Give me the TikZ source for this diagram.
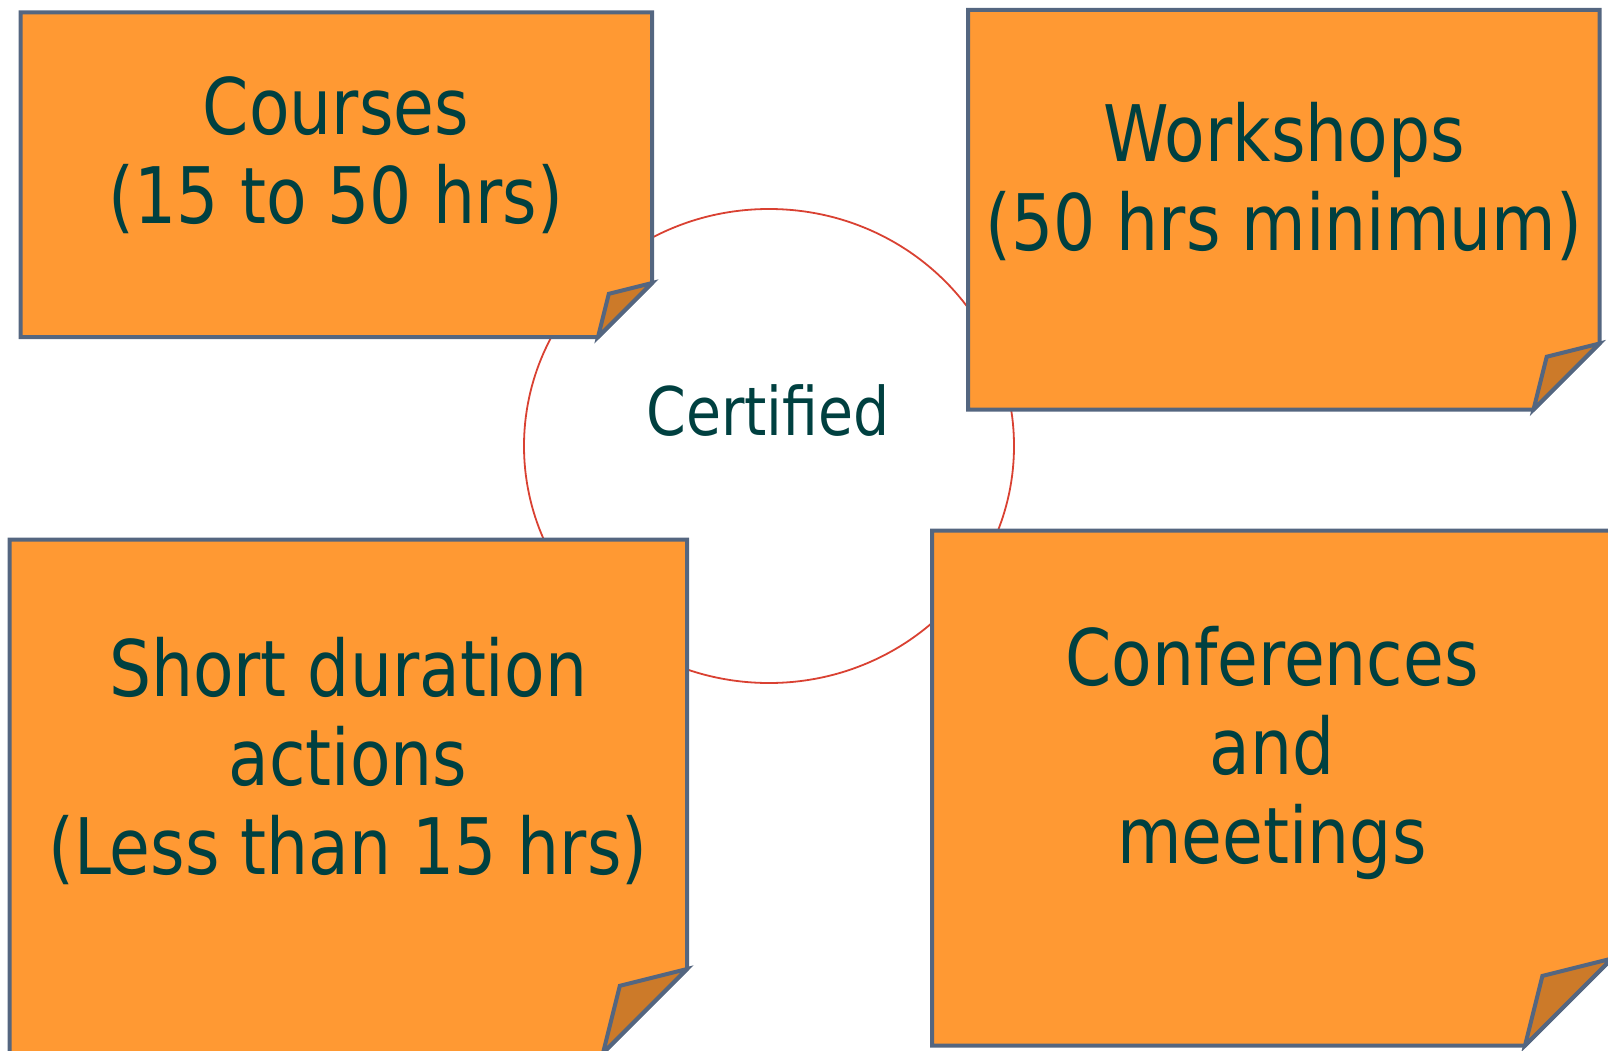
\documentclass[tikz,border=0pt]{standalone}
\usepackage{fontspec}
\newfontfamily\notefont[FakeStretch=0.85]{DejaVu Sans}

\definecolor{noteorange}{RGB}{255,153,51}
\definecolor{notefold}{RGB}{204,122,41}
\definecolor{noteedge}{RGB}{84,102,128}
\definecolor{notetext}{RGB}{0,64,64}
\definecolor{ringred}{RGB}{217,65,50}

% sticky note: left, top, right, bottom, size of the folded corner
\newcommand{\stickynote}[5]{%
    \draw[fill=noteorange] (#1,#2) -- (#3,#2) -- (#3,{#4-#5}) -- ({#3-#5},#4) -- (#1,#4) -- cycle;
    \draw[fill=notefold] (#3,{#4-#5}) -- ({#3-0.8*#5},{#4-0.8*#5}) -- ({#3-#5},#4) -- cycle;
}

\begin{document}
\begin{tikzpicture}[x=1pt, y=-1pt, line width=4pt, line join=miter,
    notelabel/.style={text=notetext, align=center, anchor=base,
        font=\notefont\fontsize{78}{89}\selectfont}]
\useasboundingbox (0,0) rectangle (1608,1051);
\clip (0,0) rectangle (1608,1051);

%\fill[white] (0,0) rectangle (1608,1051);
\draw[line width=1.8pt, color=ringred] (769,446) ellipse [x radius=245, y radius=237];

\begin{scope}[draw=noteedge]
    \stickynote{20.5}{12.5}{652}{337}{54}
    \stickynote{968}{10}{1599.5}{409.5}{66}
    \stickynote{9.5}{539.5}{687}{1053}{84}
    \stickynote{932}{530.5}{1612}{1045.5}{87}
\end{scope}

% anchor=base sits on the last line
\node[notelabel] (courses) at (336,224) {Courses\\(15 to 50 hrs)};
\node[notelabel] (workshops) at (1284,251) {Workshops\\(50 hrs minimum)};
\node[notelabel] (short) at (348,874) {Short duration\\actions\\(Less than 15 hrs)};
\node[notelabel] (conferences) at (1272,863) {Conferences\\and\\meetings};
\node[text=notetext, anchor=base, font=\notefont\fontsize{67}{80}\selectfont] (certified) at (768,435) {Certified};
\end{tikzpicture}
\end{document}
